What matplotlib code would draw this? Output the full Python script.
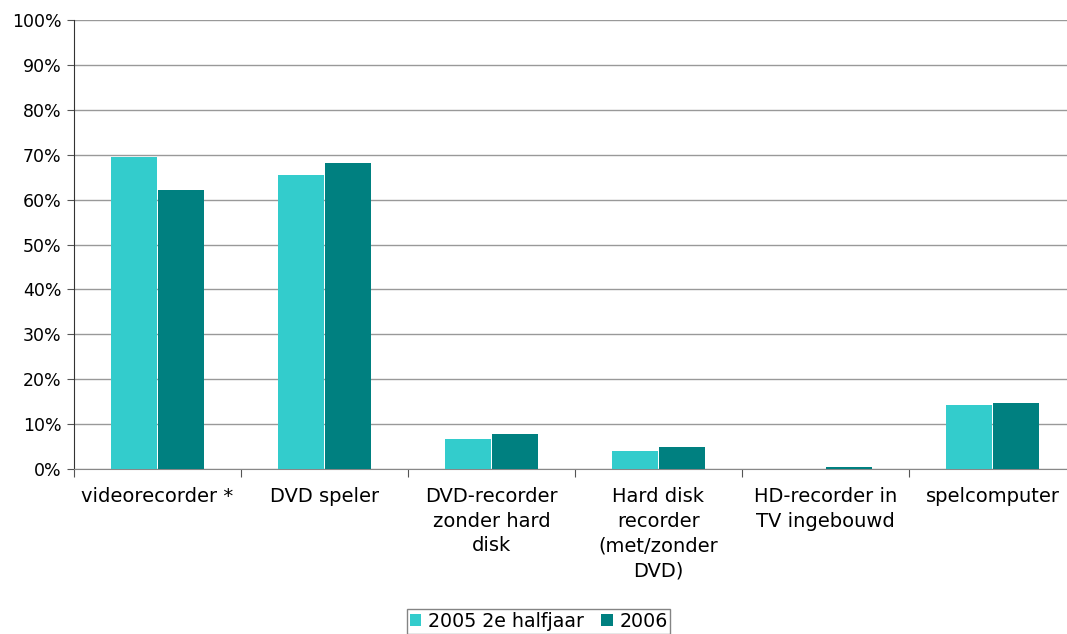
import numpy as np
import matplotlib.pyplot as plt
from matplotlib.ticker import FixedLocator, NullFormatter

categories = ["videorecorder *", "DVD speler", "DVD-recorder\nzonder hard\ndisk",
              "Hard disk\nrecorder\n(met/zonder\nDVD)", "HD-recorder in\nTV ingebouwd", "spelcomputer"]
s2005 = [69.5, 65.5, 6.7, 4.0, 0.0, 14.3]
s2006 = [62.1, 68.2, 7.8, 4.9, 0.4, 14.7]
labels = ["2005 2e halfjaar", "2006"]
colors = ["#33CCCC", "#008080"]

W, H = 1067, 634
fig = plt.figure(figsize=(W / 100, H / 100), dpi=100)
ax = fig.add_axes([74 / W, (H - 469) / H, 1002 / W, 449 / H])

x = np.arange(len(categories))
bw = 0.275
ax.bar(x - bw / 2 - 0.003, s2005, bw, color=colors[0], label=labels[0], zorder=3)
ax.bar(x + bw / 2 + 0.003, s2006, bw, color=colors[1], label=labels[1], zorder=3)

ax.set_xlim(-0.5, len(categories) - 0.5)
ax.set_ylim(0, 100)
ax.set_yticks(range(0, 101, 10))
ax.set_yticklabels([f"{v}%" for v in range(0, 101, 10)], fontsize=12.5)
ax.yaxis.grid(True, color="#999999", linewidth=1, zorder=0)

ax.xaxis.set_major_locator(FixedLocator(np.arange(-0.5, len(categories), 1)))
ax.xaxis.set_major_formatter(NullFormatter())
ax.set_xticks(x, minor=True)
ax.set_xticklabels(categories, minor=True, fontsize=14, linespacing=1.38, va="top")
ax.tick_params(axis="x", which="minor", length=0, pad=13)
ax.tick_params(axis="x", which="major", length=6, color="#555555")
ax.tick_params(axis="y", length=5, color="#555555", pad=4)

for s in ["top", "right"]:
    ax.spines[s].set_visible(False)
ax.spines["left"].set_color("#333333")
ax.spines["bottom"].set_color("#888888")

leg = fig.legend(loc="lower center", bbox_to_anchor=(0.505, 0.0), ncol=2, fontsize=13.7,
                 frameon=True, fancybox=False, handlelength=0.6, handleheight=0.6,
                 handletextpad=0.35, columnspacing=0.9, borderpad=0.15, borderaxespad=0)
leg.get_frame().set_edgecolor("#666666")
leg.get_frame().set_linewidth(1)

fig.savefig("out.png", dpi=100)
